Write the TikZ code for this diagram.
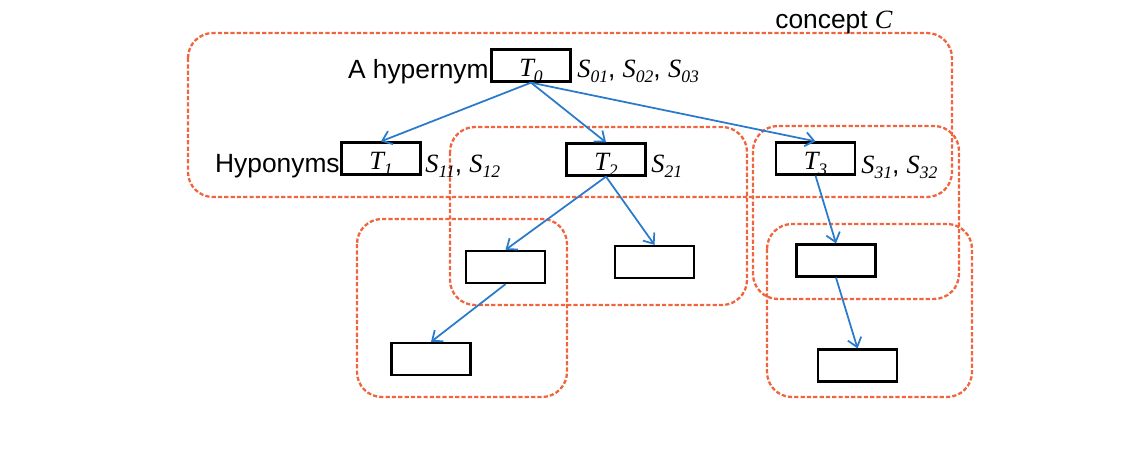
\documentclass[tikz,border=0pt]{standalone}
\usepackage{fontspec}
\setmainfont{Liberation Sans}
\newfontfamily\timesit{Liberation Serif}
\usepackage{xcolor}
\usetikzlibrary{arrows.meta}

\definecolor{grpred}{RGB}{240,100,62}
\definecolor{arrblue}{RGB}{42,122,204}

\newcommand{\tsub}[2]{{\timesit\itshape #1\raisebox{-3.4pt}{\fontsize{10}{10}\selectfont #2}}}

\tikzset{
  termbox/.style={draw=black,line width=1.3pt,minimum width=1.58cm,minimum height=0.64cm,
    inner sep=0pt,text height=0.54cm,text depth=0.1cm,font=\fontsize{15}{15}\selectfont},
  grp/.style={draw=grpred,line width=1.3pt,dash pattern=on 2.4pt off 1.2pt,rounded corners=0.5cm},
  link/.style={draw=arrblue,line width=1pt,-{Straight Barb[length=5pt,width=8pt]}},
  lbl/.style={inner sep=0pt,font=\fontsize{15}{15}\selectfont}
}

\begin{document}
\begin{tikzpicture}[x=0.02cm,y=-0.02cm]
    \useasboundingbox (0,0) rectangle (1143,451);
    % groups
    \draw[grp] (188,33) rectangle (952,197);
    \draw[grp] (450,127) rectangle (747,305);
    \draw[grp] (753,126) rectangle (959,299);
    \draw[grp] (357,219) rectangle (567,397);
    \draw[grp] (767,224) rectangle (972,397);
    \node[lbl,anchor=base west] (concept) at (775,28) {concept {\timesit\itshape C}};
    % terms
    \node[termbox] (t0) at (531,65.5) {\tsub{T}{0}};
    \node[termbox] (t1) at (381,158.5) {\tsub{T}{1}};
    \node[termbox] (t2) at (606,159.5) {\tsub{T}{2}};
    \node[termbox] (t3) at (815.5,158.5) {\tsub{T}{3}};
    \node[termbox] (b21) at (505.5,267) {};
    \node[termbox] (b22) at (654.5,262) {};
    \node[termbox] (b211) at (431,359) {};
    \node[termbox] (b31) at (836,260.5) {};
    \node[termbox] (b311) at (857.5,365.5) {};
    % labels
    \node[lbl,anchor=base east] (hyper) at (489,78) {A hypernym};
    \node[lbl,anchor=base east] (hypo) at (340,172) {Hyponyms};
    \node[lbl,anchor=base west] (s0) at (577,77) {\tsub{S}{01}, \tsub{S}{02}, \tsub{S}{03}};
    \node[lbl,anchor=base west] (s1) at (425,172) {\tsub{S}{11}, \tsub{S}{12}};
    \node[lbl,anchor=base west] (s2) at (651,172) {\tsub{S}{21}};
    \node[lbl,anchor=base west] (s3) at (861,173) {\tsub{S}{31}, \tsub{S}{32}};
    % links
    \draw[link] (t0.south) -- (t1.north);
    \draw[link] (t0.south) -- (t2.north);
    \draw[link] (t0.south) -- (t3.north);
    \draw[link] (t2.south) -- (b21.north);
    \draw[link] (t2.south) -- (b22.north);
    \draw[link] (b21.south) -- (b211.north);
    \draw[link] (t3.south) -- (b31.north);
    \draw[link] (b31.south) -- (b311.north);
\end{tikzpicture}
\end{document}
